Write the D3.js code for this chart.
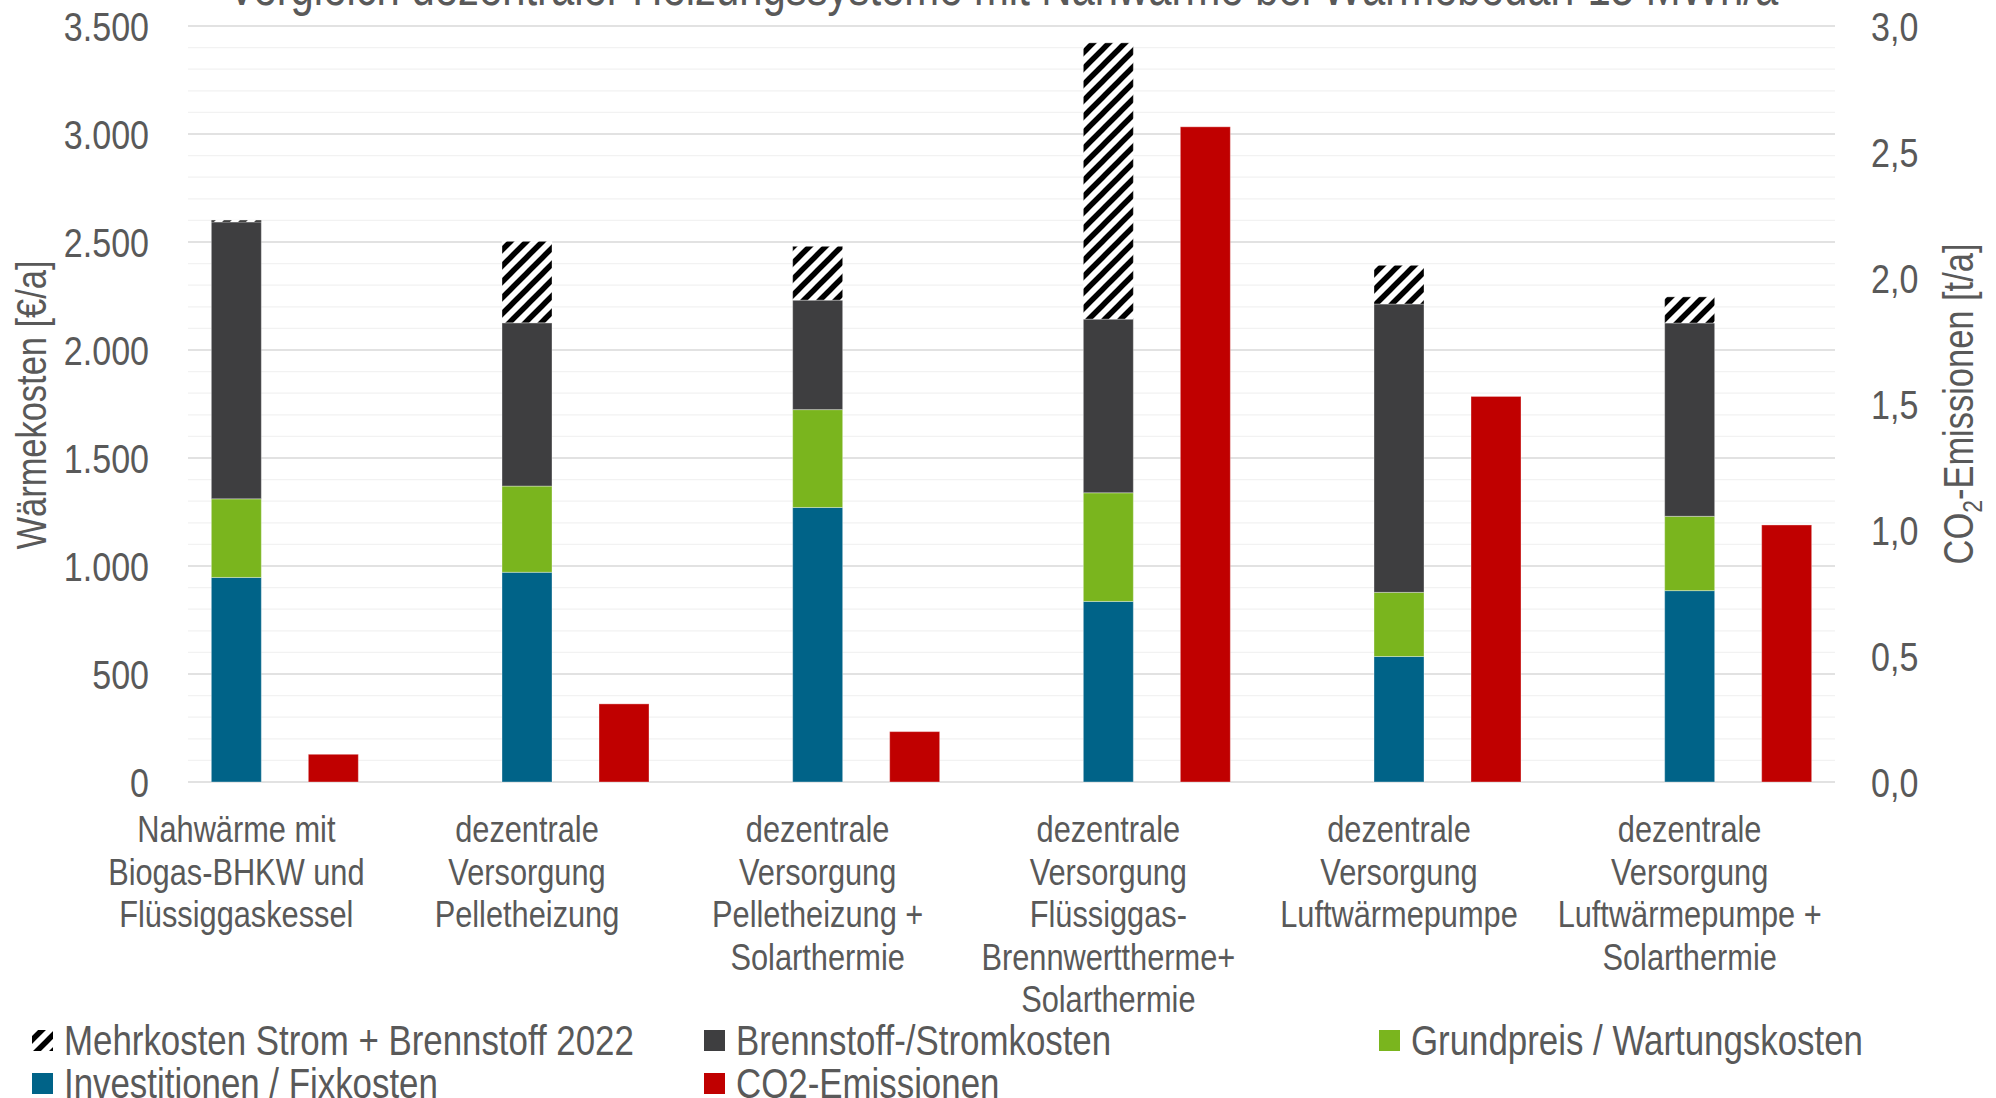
<!DOCTYPE html>
<html>
<head>
<meta charset="utf-8">
<script src="https://cdn.jsdelivr.net/npm/d3@7"></script>
<style>
  html, body { margin: 0; padding: 0; background: #ffffff; }
  svg text { font-family: "Liberation Sans", Arial, sans-serif; fill: #595959; }
</style>
</head>
<body>
<svg id="chart" width="1996" height="1098"></svg>
<script>
// Heizungssysteme (Kategorien) und ihre Beschriftungszeilen
const categories = [
  "Nahwärme mit Biogas-BHKW und Flüssiggaskessel",
  "dezentrale Versorgung Pelletheizung",
  "dezentrale Versorgung Pelletheizung + Solarthermie",
  "dezentrale Versorgung Flüssiggas-Brennwerttherme+ Solarthermie",
  "dezentrale Versorgung Luftwärmepumpe",
  "dezentrale Versorgung Luftwärmepumpe + Solarthermie"
];
const categoryLines = [
  ["Nahwärme mit", "Biogas-BHKW und", "Flüssiggaskessel"],
  ["dezentrale", "Versorgung", "Pelletheizung"],
  ["dezentrale", "Versorgung", "Pelletheizung +", "Solarthermie"],
  ["dezentrale", "Versorgung", "Flüssiggas-", "Brennwerttherme+", "Solarthermie"],
  ["dezentrale", "Versorgung", "Luftwärmepumpe"],
  ["dezentrale", "Versorgung", "Luftwärmepumpe +", "Solarthermie"]
];

// Kostenanteile in €/a
const investitionen = [947, 971, 1271, 836, 581, 886];
const grundpreis    = [364, 399, 453, 503, 297, 344];
const brennstoff    = [1282, 756, 507, 804, 1335, 895];
const mehrkosten    = [8, 377, 249, 1279, 179, 121];

// CO2-Emissionen in t/a
const co2 = [0.11, 0.31, 0.20, 2.60, 1.53, 1.02];

// Achsen
const costTicks = [0, 500, 1000, 1500, 2000, 2500, 3000, 3500];
const costMinorTicks = d3.range(0, 3501, 100);
const co2Ticks = [0, 0.5, 1.0, 1.5, 2.0, 2.5, 3.0];

const seriesNames = {
  mehr: "Mehrkosten Strom + Brennstoff 2022",
  brenn: "Brennstoff-/Stromkosten",
  grund: "Grundpreis / Wartungskosten",
  invest: "Investitionen / Fixkosten",
  co2: "CO2-Emissionen"
};
const colors = {
  invest: "#006388",
  grund: "#7AB51E",
  brenn: "#3E3E40",
  co2: "#C00000"
};

const title = "Vergleich dezentraler Heizungssysteme mit Nahwärme bei Wärmebedarf 15 MWh/a";

const de = d3.formatLocale({ decimal: ",", thousands: ".", grouping: [3], currency: ["", " €"] });
const fmtCost = de.format(",.0f");
const fmtCo2 = de.format(",.1f");

// Condensed look: squeeze each text horizontally
const NARROW = 0.82;
function narrow(sel) {
  sel.each(function () {
    const w = this.getComputedTextLength();
    d3.select(this).attr("textLength", w * NARROW).attr("lengthAdjust", "spacingAndGlyphs");
  });
  return sel;
}

const svg = d3.select("#chart");

const plotLeft = 188, plotRight = 1835, plotTop = 26, plotBottom = 782;

const y = d3.scaleLinear().domain([0, 3500]).range([plotBottom, plotTop]);
const y2 = d3.scaleLinear().domain([0, 3.0]).range([plotBottom, plotTop]);
const x = d3.scaleBand().domain(categories).range([91, plotRight]).padding(0);

const barW = 50;
const co2Offset = 97;
const center = c => x(c) + x.bandwidth() / 2;

// Hatch pattern for the 2022 surcharge
const defs = svg.append("defs");
const pat = defs.append("pattern")
  .attr("id", "hatch")
  .attr("patternUnits", "userSpaceOnUse")
  .attr("width", 16).attr("height", 16);
pat.append("rect").attr("width", 16).attr("height", 16).attr("fill", "#ffffff");
pat.append("path")
  .attr("d", "M-4,4 L4,-4 M0,16 L16,0 M12,20 L20,12")
  .attr("stroke", "#000000").attr("stroke-width", 5.5);

// Gridlines
const grid = svg.append("g");
grid.selectAll("line.minor")
  .data(costMinorTicks.filter(v => v % 500 !== 0))
  .join("line")
  .attr("x1", plotLeft).attr("x2", plotRight)
  .attr("y1", d => y(d)).attr("y2", d => y(d))
  .attr("stroke", "#f2f2f2").attr("stroke-width", 1.3);
grid.selectAll("line.major")
  .data(costTicks)
  .join("line")
  .attr("x1", plotLeft).attr("x2", plotRight)
  .attr("y1", d => y(d)).attr("y2", d => y(d))
  .attr("stroke", "#d9d9d9").attr("stroke-width", 1.5);

// Stacked cost bars
const rows = categories.map((c, i) => ({
  cat: c,
  invest: investitionen[i],
  grund: grundpreis[i],
  brenn: brennstoff[i],
  mehr: mehrkosten[i]
}));
const keys = ["invest", "grund", "brenn", "mehr"];
const stacked = d3.stack().keys(keys)(rows);

svg.append("g").selectAll("g")
  .data(stacked)
  .join("g")
  .attr("fill", d => d.key === "mehr" ? "url(#hatch)" : colors[d.key])
  .selectAll("rect")
  .data(d => d)
  .join("rect")
  .attr("x", d => center(d.data.cat) - barW / 2)
  .attr("width", barW)
  .attr("y", d => y(d[1]))
  .attr("height", d => y(d[0]) - y(d[1]))
  .attr("stroke", "rgba(255,255,255,0.35)")
  .attr("stroke-width", 1);

// CO2 bars on the secondary axis
svg.append("g").selectAll("rect")
  .data(categories.map((c, i) => ({ cat: c, v: co2[i] })))
  .join("rect")
  .attr("x", d => center(d.cat) + co2Offset - barW / 2)
  .attr("width", barW)
  .attr("y", d => y2(d.v))
  .attr("height", d => y2(0) - y2(d.v))
  .attr("fill", colors.co2)
  .attr("stroke", "rgba(255,255,255,0.35)")
  .attr("stroke-width", 1);

// Left axis
const leftAxis = svg.append("g")
  .attr("transform", `translate(${plotLeft - 39},0)`)
  .call(d3.axisLeft(y).tickValues(costTicks).tickFormat(fmtCost).tickSize(0).tickPadding(0));
leftAxis.attr("font-family", null).attr("font-size", null);
leftAxis.select(".domain").remove();
leftAxis.selectAll("text").attr("font-size", 41.5).attr("fill", "#595959").attr("dy", "0.35em");
narrow(leftAxis.selectAll("text"));

// Right axis
const rightAxis = svg.append("g")
  .attr("transform", `translate(1871,0)`)
  .call(d3.axisRight(y2).tickValues(co2Ticks).tickFormat(fmtCo2).tickSize(0).tickPadding(0));
rightAxis.attr("font-family", null).attr("font-size", null);
rightAxis.select(".domain").remove();
rightAxis.selectAll("text").attr("font-size", 41.5).attr("fill", "#595959").attr("dy", "0.35em");
narrow(rightAxis.selectAll("text"));

// Category labels, one text per line
const catG = svg.append("g");
categories.forEach((c, i) => {
  categoryLines[i].forEach((line, j) => {
    catG.append("text")
      .attr("text-anchor", "middle")
      .attr("font-size", 37.5)
      .attr("x", center(c))
      .attr("y", 842 + j * 42.6)
      .text(line);
  });
});
narrow(catG.selectAll("text"));

// Axis titles
narrow(svg.append("text")
  .attr("transform", `translate(46,405) rotate(-90)`)
  .attr("text-anchor", "middle")
  .attr("font-size", 42)
  .text("Wärmekosten [€/a]"));

const rt = svg.append("text")
  .attr("transform", `translate(1973,404) rotate(-90)`)
  .attr("text-anchor", "middle")
  .attr("font-size", 42);
rt.append("tspan").text("CO");
rt.append("tspan").attr("font-size", 28).attr("dy", 9).text("2");
rt.append("tspan").attr("dy", -9).text("-Emissionen [t/a]");
narrow(rt);

// Title (partly above the top edge)
narrow(svg.append("text")
  .attr("x", 1003).attr("y", 5)
  .attr("text-anchor", "middle")
  .attr("font-size", 51)
  .text(title));

// Legend
const legendItems = [
  { key: "mehr", fill: "url(#hatch)", x: 32, y: 1040 },
  { key: "brenn", fill: colors.brenn, x: 704, y: 1040 },
  { key: "grund", fill: colors.grund, x: 1379, y: 1040 },
  { key: "invest", fill: colors.invest, x: 32, y: 1083 },
  { key: "co2", fill: colors.co2, x: 704, y: 1083 }
];
const lg = svg.append("g").selectAll("g").data(legendItems).join("g")
  .attr("transform", d => `translate(${d.x},${d.y})`);
lg.append("rect").attr("x", 0).attr("y", -10).attr("width", 21).attr("height", 21)
  .attr("fill", d => d.fill);
narrow(lg.append("text").attr("x", 32).attr("y", 15).attr("font-size", 42.5)
  .text(d => seriesNames[d.key]));
</script>
</body>
</html>
